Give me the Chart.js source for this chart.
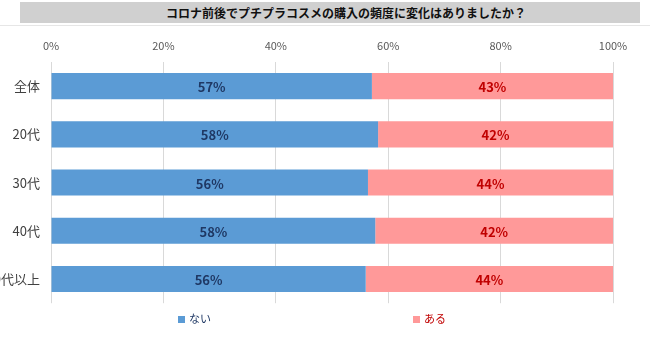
<!DOCTYPE html>
<html>
<head>
<meta charset="utf-8">
<script src="https://cdn.jsdelivr.net/npm/chart.js@4"></script>
<style>
  body { margin: 0; background: #fff; font-family: "Noto Sans CJK JP", sans-serif; }
  #wrap { position: relative; width: 650px; height: 339px; overflow: hidden; }
  #title {
    position: absolute; left: 20px; top: 2px; width: 620px; height: 21px;
    background: #d0d0d0; font-size: 12px; font-weight: bold; color: #111;
    line-height: 21px;
  }
  #title span { position: absolute; left: 146px; }
  #frame { position: absolute; left: 0; top: 25px; width: 650px; height: 1px; background: #e6e6e6; }
  #chart { position: absolute; left: 0; top: 28px; }
  .leg { position: absolute; top: 310px; font-size: 11px; }
  .leg i { display: inline-block; width: 7px; height: 7px; margin-right: 4px; vertical-align: 0px; }
</style>
</head>
<body>
<div id="wrap">
  <div id="title"><span>コロナ前後でプチプラコスメの購入の頻度に変化はありましたか？</span></div>
  <div id="frame"></div>
  <canvas id="chart" width="650" height="286"></canvas>
  <div class="leg" style="left:178px;color:#1f3864"><i style="background:#5b9bd5"></i>ない</div>
  <div class="leg" style="left:413px;color:#c00000"><i style="background:#ff9999"></i>ある</div>
</div>
<script>
const categories = ["全体", "20代", "30代", "40代", "60代以上"];
const naiValues = [57.1, 58.2, 56.4, 57.7, 56.0];
const aruValues = [42.9, 41.8, 43.6, 42.3, 44.0];
const xTicks = [0, 20, 40, 60, 80, 100];

// draws the % text in the middle of each bar piece
const barLabels = {
  id: "barLabels",
  afterDatasetsDraw(chart) {
    const ctx = chart.ctx;
    ctx.save();
    ctx.font = "bold 13px 'Noto Sans CJK JP'";
    ctx.textAlign = "center";
    ctx.textBaseline = "middle";
    chart.data.datasets.forEach((ds, i) => {
      ctx.fillStyle = ds.labelColor;
      chart.getDatasetMeta(i).data.forEach((bar, j) => {
        const p = bar.getProps(["x", "y", "base"], true);
        ctx.fillText(Math.round(ds.data[j]) + "%", (p.x + p.base) / 2, p.y + 1);
      });
    });
    ctx.restore();
  },
};

new Chart(document.getElementById("chart"), {
  type: "bar",
  data: {
    labels: categories,
    datasets: [
      { label: "ない", data: naiValues, backgroundColor: "#5b9bd5", labelColor: "#1f3864",
        barPercentage: 0.54, categoryPercentage: 1 },
      { label: "ある", data: aruValues, backgroundColor: "#ff9999", labelColor: "#c00000",
        barPercentage: 0.54, categoryPercentage: 1 },
    ],
  },
  options: {
    indexAxis: "y",
    responsive: false,
    animation: false,
    layout: { padding: { top: 0, right: 37, bottom: 0, left: 0 } },
    plugins: { legend: { display: false }, tooltip: { enabled: false } },
    scales: {
      x: {
        position: "top",
        stacked: true,
        min: 0,
        max: 100,
        afterBuildTicks: (s) => { s.ticks = xTicks.map((v) => ({ value: v })); },
        afterFit: (s) => { s.height = 34; },
        grid: { color: "#d9d9d9", drawTicks: false },
        border: { display: false },
        ticks: { padding: 10, color: "#595959", font: { size: 11, family: "'Noto Sans CJK JP'" },
                 callback: (v) => v + "%" },
      },
      y: {
        stacked: true,
        afterFit: (s) => { s.width = 51; },
        grid: { display: false },
        border: { display: false },
        ticks: { padding: 3, color: "#404040", font: { size: 13, family: "'Noto Sans CJK JP'" } },
      },
    },
  },
  plugins: [barLabels],
});
</script>
</body>
</html>
